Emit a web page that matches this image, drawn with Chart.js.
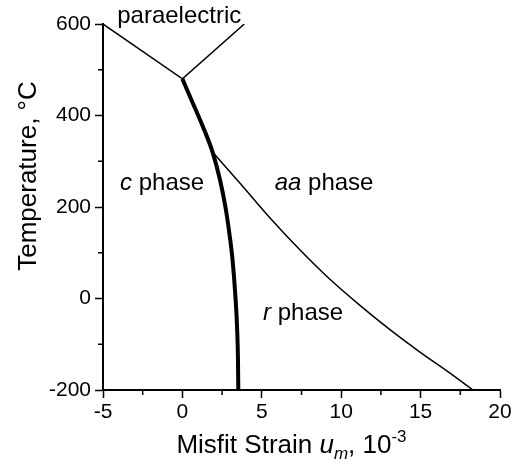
<!DOCTYPE html>
<html>
<head>
<meta charset="utf-8">
<script src="https://cdn.jsdelivr.net/npm/chart.js@4.4.0/dist/chart.umd.min.js"></script>
<style>
  html, body { margin: 0; padding: 0; background: #fff; }
  #wrap { width: 515px; height: 464px; position: relative; }
</style>
</head>
<body>
<div id="wrap"><canvas id="myChart"></canvas></div>
<script>
// phase boundaries (misfit strain in 1e-3, temperature in C)
const paraStrain = [-5, 0, 3.9];
const paraTemp = [600, 480, 600];

const cBoundaryStrain = [0, 0.57, 1.3, 1.9, 2.37, 2.71, 2.97, 3.16, 3.34, 3.45, 3.5, 3.52];
const cBoundaryTemp = [480, 434, 375, 320, 259, 200, 139, 84, 3, -69, -134, -200];

const aaBoundaryStrain = [1.9, 3.63, 5.52, 7.41, 9.29, 11.18, 13.07, 14.96, 16.85, 18.3];
const aaBoundaryTemp = [320, 252, 176, 106, 42, -15, -68, -117, -163, -200];

const xTicks = [-5, 0, 5, 10, 15, 20];
const yTicks = [-200, 0, 200, 400, 600];
const xMinorTicks = [-2.5, 2.5, 7.5, 12.5, 17.5];
const yMinorTicks = [-100, 100, 300, 500];

const FONT = '"Liberation Sans", Arial, Helvetica, sans-serif';

// text labels inside the plot, anchored in data units
const regionLabels = [
    { runs: [['paraelectric', false]], x: -0.2, y: 602 },
    { runs: [['c', true], [' phase', false]], x: -1.28, y: 237 },
    { runs: [['aa', true], [' phase', false]], x: 8.92, y: 237 },
    { runs: [['r', true], [' phase', false]], x: 7.6, y: -47 }
];

function toPoints(xs, ys) {
    return xs.map((x, i) => ({ x: x, y: ys[i] }));
}

// draws a row of text pieces centred on x, with optional italics / sub / superscript
function drawRuns(ctx, runs, x, y, size) {
    const parts = runs.map(r => {
        const s = r[2] || size;
        const font = (r[1] ? 'italic ' : '') + s + 'px ' + FONT;
        ctx.font = font;
        return { text: r[0], font: font, w: ctx.measureText(r[0]).width, dy: r[3] || 0 };
    });
    const total = parts.reduce((a, p) => a + p.w, 0);
    let cx = x - total / 2;
    ctx.textAlign = 'left';
    ctx.textBaseline = 'alphabetic';
    parts.forEach(p => {
        ctx.font = p.font;
        ctx.fillText(p.text, cx, y + p.dy);
        cx += p.w;
    });
}

const decorations = {
    id: 'decorations',
    afterDraw(chart) {
        const ctx = chart.ctx;
        const xs = chart.scales.x, ys = chart.scales.y;
        const area = chart.chartArea;
        ctx.save();
        ctx.strokeStyle = '#000';
        ctx.fillStyle = '#000';
        ctx.lineWidth = 1.5;

        // minor ticks
        ctx.beginPath();
        xMinorTicks.forEach(v => {
            const px = xs.getPixelForValue(v);
            ctx.moveTo(px, area.bottom);
            ctx.lineTo(px, area.bottom + 5);
        });
        yMinorTicks.forEach(v => {
            const py = ys.getPixelForValue(v);
            ctx.moveTo(area.left, py);
            ctx.lineTo(area.left - 5, py);
        });
        ctx.stroke();

        regionLabels.forEach(l => {
            drawRuns(ctx, l.runs, xs.getPixelForValue(l.x), ys.getPixelForValue(l.y), 24);
        });

        // x axis title
        drawRuns(ctx, [
            ['Misfit Strain ', false],
            ['u', true],
            ['m', true, 17, 6],
            [', 10', false],
            ['-3', false, 17, -11]
        ], (area.left + area.right) / 2 - 10, 453, 26);

        // y axis title
        ctx.translate(36, 176);
        ctx.rotate(-Math.PI / 2);
        drawRuns(ctx, [['Temperature, \u00B0C', false]], 0, 0, 26);
        ctx.restore();
    }
};

const ctx = document.getElementById('myChart').getContext('2d');
const lineStyle = { showLine: true, pointRadius: 0, borderColor: '#000', fill: false };

const myChart = new Chart(ctx, {
    type: 'scatter',
    data: {
        datasets: [
            Object.assign({ data: toPoints(paraStrain, paraTemp), borderWidth: 1.5, tension: 0 }, lineStyle),
            Object.assign({ data: toPoints(cBoundaryStrain, cBoundaryTemp), borderWidth: 4, cubicInterpolationMode: 'monotone' }, lineStyle),
            Object.assign({ data: toPoints(aaBoundaryStrain, aaBoundaryTemp), borderWidth: 1.5, cubicInterpolationMode: 'monotone' }, lineStyle)
        ]
    },
    options: {
        responsive: true,
        maintainAspectRatio: false,
        animation: false,
        layout: { padding: { left: 0, right: 15, top: 24, bottom: 0 } },
        plugins: { legend: { display: false }, tooltip: { enabled: false } },
        scales: {
            x: {
                type: 'linear',
                min: -5,
                max: 20,
                afterBuildTicks: s => { s.ticks = xTicks.map(v => ({ value: v })); },
                afterFit: s => { s.height = 74; },
                grid: { drawOnChartArea: false, color: '#000', tickLength: 8, tickWidth: 1.5 },
                border: { display: true, color: '#000', width: 2 },
                ticks: { color: '#000', padding: 2, maxRotation: 0, font: { family: FONT, size: 21 } }
            },
            y: {
                type: 'linear',
                min: -200,
                max: 600,
                afterBuildTicks: s => { s.ticks = yTicks.map(v => ({ value: v })); },
                afterFit: s => { s.width = 103; },
                grid: { drawOnChartArea: false, color: '#000', tickLength: 8, tickWidth: 1.5 },
                border: { display: true, color: '#000', width: 2 },
                ticks: { color: '#000', padding: 4, font: { family: FONT, size: 21 } }
            }
        }
    },
    plugins: [decorations]
});
</script>
</body>
</html>
